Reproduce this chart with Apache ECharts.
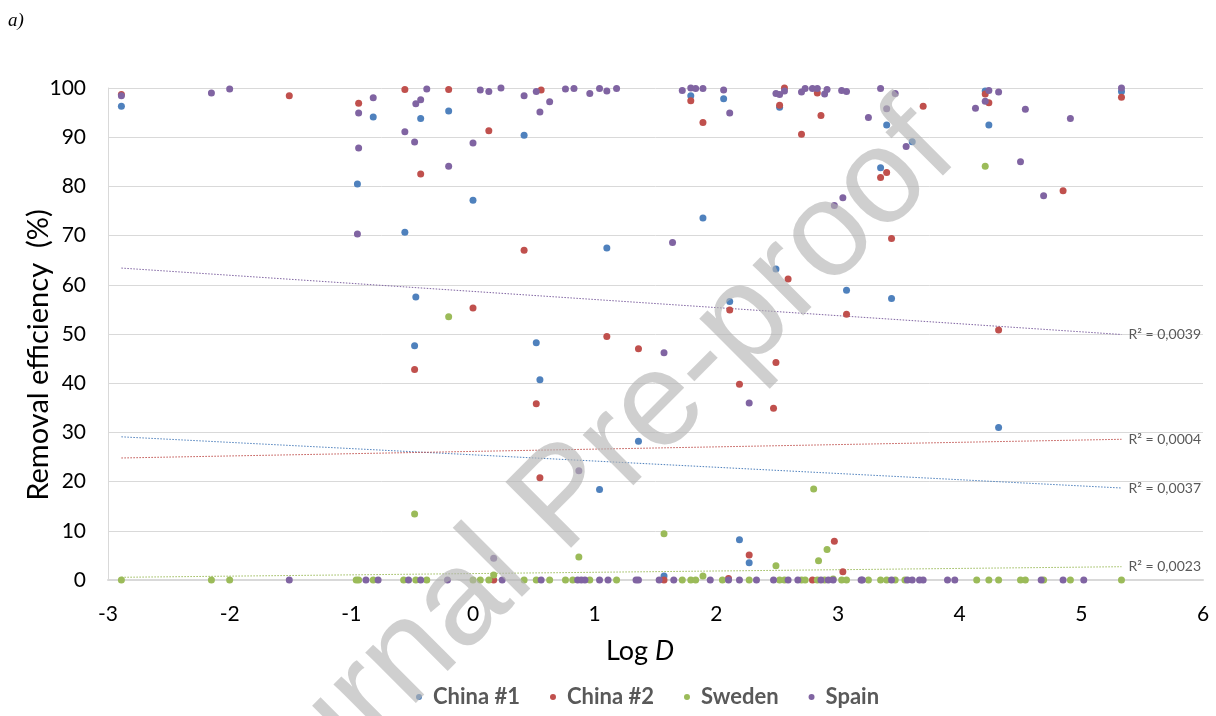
<!DOCTYPE html>
<html>
<head>
<meta charset="utf-8">
<script src="https://cdn.jsdelivr.net/npm/echarts@6/dist/echarts.min.js"></script>
<style>
  html, body { margin: 0; padding: 0; background: #ffffff; }
  #chart { width: 1216px; height: 716px; }
</style>
</head>
<body>
<div id="chart"></div>
<script>
// Removal efficiency (%) against Log D for four sampling campaigns
const seriesNames = ['China #1', 'China #2', 'Sweden', 'Spain'];
const seriesColors = ['#4F81BD', '#C0504D', '#9BBB59', '#8064A2'];

const china1 = [
  [-2.89, 96.3], [-0.95, 80.5], [-0.82, 94.1], [-0.56, 70.7], [-0.47, 57.5], [-0.48, 47.6],
  [-0.43, 93.8], [-0.20, 95.3], [0.00, 77.2], [0.42, 90.4], [0.52, 48.2], [0.55, 40.7],
  [1.04, 18.4], [1.10, 67.5], [1.36, 28.2], [1.57, 0.8], [1.79, 98.4], [1.89, 73.6],
  [2.06, 97.8], [2.11, 56.6], [2.19, 8.2], [2.27, 3.5], [2.49, 63.2], [2.52, 96.1],
  [3.07, 58.9], [3.35, 83.8], [3.40, 92.5], [3.44, 57.2], [3.61, 89.1], [4.21, 99.4],
  [4.24, 92.5], [4.32, 31.0], [5.33, 99.3]
];

const china2 = [
  [-2.89, 98.7], [-1.51, 98.4], [-0.94, 96.9], [-0.56, 99.7], [-0.48, 42.8], [-0.43, 82.5],
  [-0.20, 99.7], [0.00, 55.3], [0.13, 91.3], [0.17, 0.0], [0.42, 67.0], [0.52, 35.8],
  [0.55, 20.8], [0.56, 99.6], [1.10, 49.5], [1.36, 47.0], [1.57, 0.0], [1.79, 97.4],
  [1.89, 93.0], [2.10, 0.3], [2.11, 54.9], [2.19, 39.8], [2.27, 5.1], [2.47, 34.9],
  [2.49, 44.2], [2.52, 96.5], [2.56, 100.0], [2.59, 61.2], [2.70, 90.6], [2.79, 0.0],
  [2.83, 99.0], [2.86, 94.4], [2.97, 7.9], [3.04, 1.7], [3.07, 54.0], [3.35, 81.8],
  [3.40, 82.8], [3.44, 69.4], [3.70, 96.3], [4.21, 98.8], [4.24, 97.0], [4.32, 50.8],
  [4.85, 79.1], [5.33, 98.1]
];

const sweden = [
  [-2.89, 0], [-2.15, 0], [-2.00, 0], [-0.96, 0], [-0.94, 0], [-0.82, 0], [-0.57, 0],
  [-0.47, 0], [-0.38, 0], [0.00, 0], [0.06, 0], [0.13, 0], [0.42, 0], [0.52, 0],
  [0.63, 0], [0.76, 0], [0.82, 0], [0.96, 0], [1.18, 0], [1.72, 0], [1.79, 0],
  [1.83, 0], [2.05, 0], [2.27, 0], [2.52, 0], [2.56, 0], [2.70, 0], [2.73, 0],
  [2.83, 0], [2.89, 0], [3.03, 0], [3.07, 0], [3.25, 0], [3.35, 0], [3.40, 0],
  [3.47, 0], [3.55, 0], [4.14, 0], [4.24, 0], [4.32, 0], [4.50, 0], [4.54, 0],
  [4.69, 0], [4.91, 0], [5.33, 0],
  [-0.48, 13.4], [-0.20, 53.5], [0.17, 1.0], [0.87, 4.7], [1.57, 9.4], [1.89, 0.8],
  [2.49, 2.9], [2.80, 18.5], [2.84, 3.9], [2.91, 6.2], [2.96, 0.2], [4.21, 84.1]
];

const spain = [
  [-2.89, 98.4], [-2.15, 99.0], [-2.00, 99.8], [-0.94, 94.9], [-0.94, 87.8], [-0.95, 70.3],
  [-0.82, 98.0], [-0.56, 91.1], [-0.48, 89.0], [-0.47, 96.8], [-0.43, 97.6], [-0.38, 99.8],
  [-0.20, 84.1], [0.00, 88.8], [0.06, 99.6], [0.13, 99.3], [0.23, 100.0], [0.42, 98.4],
  [0.52, 99.3], [0.55, 95.1], [0.63, 97.2], [0.76, 99.8], [0.83, 99.9], [0.96, 98.9],
  [1.04, 99.9], [1.10, 99.4], [1.18, 99.9], [1.64, 68.6], [1.72, 99.5], [1.79, 100.0],
  [1.83, 99.9], [1.89, 99.9], [2.06, 99.6], [2.11, 94.9], [2.49, 98.9], [2.52, 98.7],
  [2.56, 99.4], [2.70, 99.2], [2.73, 99.9], [2.79, 99.9], [2.83, 99.9], [2.89, 98.8],
  [2.91, 99.7], [2.97, 76.1], [3.03, 99.5], [3.04, 77.7], [3.07, 99.3], [3.25, 94.0],
  [3.35, 99.9], [3.40, 95.8], [3.47, 98.9], [3.56, 88.1], [4.13, 95.9], [4.21, 97.3],
  [4.24, 99.5], [4.32, 99.2], [4.50, 85.0], [4.54, 95.7], [4.69, 78.1], [4.91, 93.8],
  [5.33, 100.0],
  [1.57, 46.2], [2.27, 36.0], [0.87, 22.2], [0.17, 4.4],
  [-1.51, 0], [-0.88, 0], [-0.78, 0], [-0.53, 0], [-0.43, 0], [-0.21, 0], [0.24, 0],
  [0.56, 0], [0.86, 0], [0.89, 0], [0.92, 0], [1.04, 0], [1.11, 0], [1.34, 0],
  [1.36, 0], [1.53, 0], [1.65, 0], [1.95, 0], [2.10, 0], [2.19, 0], [2.33, 0],
  [2.47, 0], [2.59, 0], [2.67, 0], [2.86, 0], [2.92, 0], [2.96, 0], [3.19, 0],
  [3.20, 0], [3.44, 0], [3.57, 0], [3.61, 0], [3.67, 0], [3.70, 0], [3.90, 0],
  [3.96, 0], [4.67, 0], [4.85, 0], [5.02, 0]
];

// Linear trend lines (start and end points) with their R² values
const trendChina1 = [[-2.89, 29.1], [5.33, 18.7]];
const trendChina2 = [[-2.89, 24.8], [5.33, 28.6]];
const trendSweden = [[-2.89, 0.55], [5.33, 2.7]];
const trendSpain  = [[-2.89, 63.4], [5.33, 49.9]];
const r2Text = ['R² = 0,0037', 'R² = 0,0004', 'R² = 0,0023', 'R² = 0,0039'];

const xTicks = { min: -3, max: 6, interval: 1 };
const yTicks = { min: 0, max: 100, interval: 10 };

const pointSets = [china1, china2, sweden, spain];
const trendSets = [trendChina1, trendChina2, trendSweden, trendSpain];

const FONT = 'Lato, "Open Sans", sans-serif';

const scatterSeries = pointSets.map((pts, i) => ({
  name: seriesNames[i],
  type: 'scatter',
  data: pts,
  symbol: 'circle',
  symbolSize: 7,
  itemStyle: { color: seriesColors[i], opacity: 1 },
  z: 3 + i,
  silent: true
}));

const trendSeries = trendSets.map((seg, i) => ({
  name: 'trend-' + i,
  type: 'line',
  data: seg,
  showSymbol: false,
  symbol: 'none',
  lineStyle: { color: seriesColors[i], width: 1, type: [1.5, 1.5] },
  endLabel: {
    show: true,
    distance: 7,
    formatter: r2Text[i],
    color: '#595959',
    fontFamily: FONT,
    fontSize: 14
  },
  z: 2,
  silent: true
}));

const chart = echarts.init(document.getElementById('chart'), null, { renderer: 'canvas' });

chart.setOption({
  backgroundColor: '#ffffff',
  animation: false,
  grid: {
    left: 108, right: 13, top: 88, bottom: 136,
    containLabel: false,
    outerBoundsMode: 'none'
  },
  xAxis: {
    type: 'value',
    min: xTicks.min,
    max: xTicks.max,
    interval: xTicks.interval,
    name: '{n|Log }{d|D}',
    nameLocation: 'middle',
    nameGap: 58,
    nameTextStyle: {
      padding: [0, 31, 0, 0],
      rich: {
        n: { fontFamily: FONT, fontSize: 27, color: '#000000' },
        d: { fontFamily: FONT, fontSize: 27, fontStyle: 'italic', color: '#000000' }
      }
    },
    axisLine: { show: true, onZero: false, lineStyle: { color: '#d9d9d9', width: 2 } },
    axisTick: { show: false },
    splitLine: { show: false },
    axisLabel: { color: '#000000', fontFamily: FONT, fontSize: 21, margin: 24 }
  },
  yAxis: {
    type: 'value',
    min: yTicks.min,
    max: yTicks.max,
    interval: yTicks.interval,
    axisLine: { show: true, onZero: false, lineStyle: { color: '#d9d9d9', width: 1 } },
    axisTick: { show: false },
    splitLine: { show: true, lineStyle: { color: '#d9d9d9', width: 1 } },
    axisLabel: { color: '#000000', fontFamily: FONT, fontSize: 21, margin: 22 }
  },
  legend: {
    data: seriesNames,
    top: 681,
    left: 411,
    icon: 'circle',
    itemWidth: 6,
    itemHeight: 6,
    itemGap: 30,
    textStyle: {
      color: '#595959', fontFamily: FONT, fontSize: 22, fontWeight: 'bold',
      padding: [0, 0, 0, 6]
    }
  },
  series: trendSeries.concat(scatterSeries),
  graphic: [
    {
      type: 'text',
      left: 8,
      top: 11,
      style: {
        text: 'a)',
        font: 'italic 19px "Liberation Serif", "DejaVu Serif", serif',
        fill: '#000000'
      }
    },
    {
      // vertical axis title
      type: 'text',
      x: 39,
      y: 355,
      rotation: Math.PI / 2,
      style: {
        text: 'Removal efficiency  (%)',
        font: '29px Lato, "Open Sans", sans-serif',
        fill: '#000000',
        align: 'center',
        verticalAlign: 'middle'
      }
    },
    {
      type: 'text',
      x: 566,
      y: 500,
      rotation: Math.PI / 4,
      z: 100,
      silent: true,
      style: {
        text: 'Journal Pre-proof',
        font: '135px "Liberation Sans", Arial, sans-serif',
        fill: 'rgba(180,180,180,0.64)',
        align: 'center',
        verticalAlign: 'middle'
      }
    }
  ]
});
</script>
</body>
</html>
